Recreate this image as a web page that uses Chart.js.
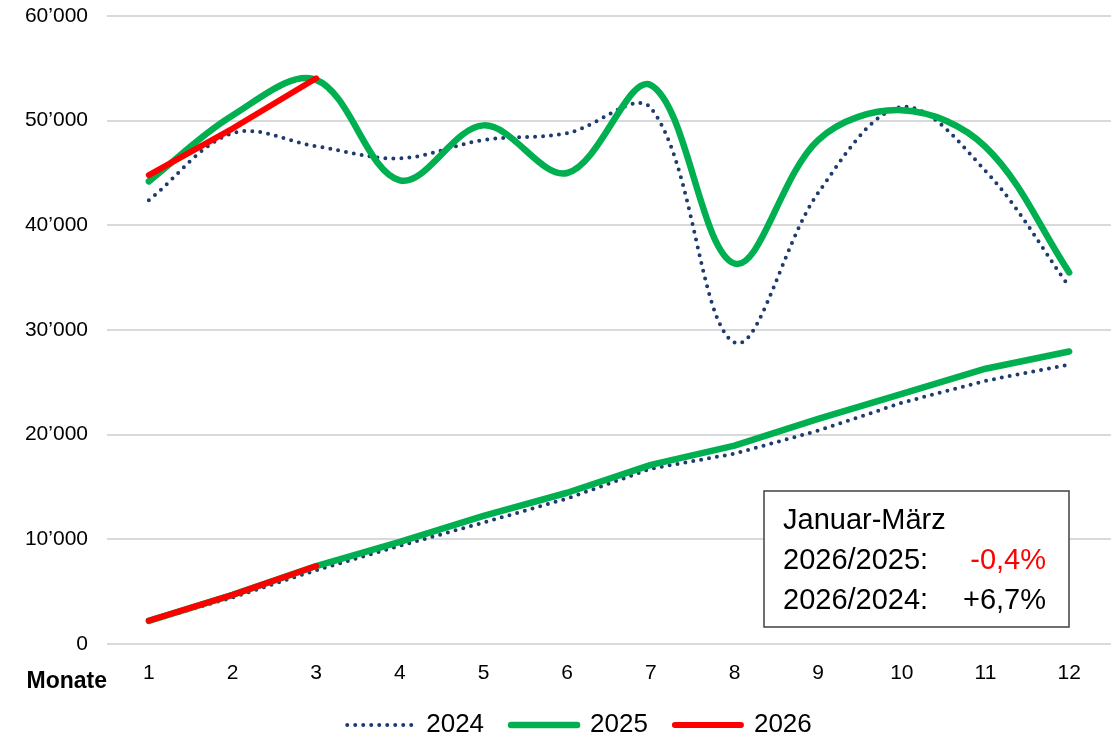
<!DOCTYPE html>
<html lang="de">
<head>
<meta charset="utf-8">
<title>Monatswerte 2024 - 2026</title>
<script src="https://cdn.jsdelivr.net/npm/chart.js@4.4.1/dist/chart.umd.min.js"></script>
<style>
  html, body { margin: 0; padding: 0; background: #fff; }
  #chart { display: block; }
</style>
</head>
<body>
<canvas id="chart" width="1112" height="739"></canvas>
<script>
// --- Daten ---
const monate = ['1', '2', '3', '4', '5', '6', '7', '8', '9', '10', '11', '12'];

const monat2024 = [42400, 48800, 47550, 46400, 48150, 48800, 51200, 28800, 43100, 51300, 45200, 34150];
const monat2025 = [44200, 50500, 53900, 44300, 49550, 45000, 53400, 36350, 48150, 51000, 47500, 35500];
const monat2026 = [44800, 49250, 54050];

const kum2024 = [2150, 4450, 7050, 9380, 11600, 13900, 16750, 18180, 20380, 23050, 25150, 26700];
const kum2025 = [2200, 4700, 7450, 9750, 12250, 14450, 17120, 18950, 21500, 23900, 26300, 27950];
const kum2026 = [2240, 4700, 7450];

const yTicks = { min: 0, max: 60000, step: 10000 };

const infoTitel = 'Januar-März';
const infoZeilen = [
    { text: '2026/2025:', wert: '-0,4%', farbe: '#FF0000' },
    { text: '2026/2024:', wert: '+6,7%', farbe: '#000000' }
];

const BLAU = '#1F3A6E';
const GRUEN = '#00B050';
const ROT = '#FF0000';
const SCHRIFT = '"Liberation Sans", Arial, sans-serif';

const tausender = (v) => String(v).replace(/\B(?=(\d{3})+(?!\d))/g, '\u2019');

// --- Plugins ---
// "Monate" links unter der Achse
const monateLabel = {
    id: 'monateLabel',
    afterDraw(chart) {
        const { ctx, chartArea } = chart;
        ctx.save();
        ctx.font = 'bold 23px ' + SCHRIFT;
        ctx.fillStyle = '#000';
        ctx.textAlign = 'right';
        ctx.textBaseline = 'middle';
        ctx.fillText('Monate', chartArea.left, chartArea.bottom + 38);
        ctx.restore();
    }
};

// Kasten mit Vergleich Januar-März
const infoBox = {
    id: 'infoBox',
    afterDraw(chart) {
        const { ctx, chartArea } = chart;
        const x = chartArea.right - 347, y = chartArea.bottom - 153, w = 305, h = 136;
        ctx.save();
        ctx.fillStyle = '#fff';
        ctx.fillRect(x, y, w, h);
        ctx.strokeStyle = '#404040';
        ctx.lineWidth = 1.5;
        ctx.strokeRect(x, y, w, h);
        ctx.font = '29px ' + SCHRIFT;
        ctx.textBaseline = 'alphabetic';
        ctx.fillStyle = '#000';
        ctx.textAlign = 'left';
        ctx.fillText(infoTitel, x + 19, y + 38);
        infoZeilen.forEach((z, i) => {
            const by = y + 78 + i * 40;
            ctx.textAlign = 'left';
            ctx.fillStyle = '#000';
            ctx.fillText(z.text, x + 19, by);
            ctx.textAlign = 'right';
            ctx.fillStyle = z.farbe;
            ctx.fillText(z.wert, x + 282, by);
        });
        ctx.restore();
    }
};

// Legende etwas verschieben, damit sie wie in der Vorlage sitzt
const legendeVerschieben = {
    id: 'legendeVerschieben',
    afterLayout(chart) {
        const l = chart.legend;
        if (!l) return;
        l.left += 24; l.right += 24;
        l.top -= 3; l.bottom -= 3;
    }
};

// --- Chart ---
const linie = (label, data, farbe, breite, extra) => Object.assign({
    label: label,
    data: data,
    borderColor: farbe,
    backgroundColor: farbe,
    borderWidth: breite,
    pointRadius: 0,
    pointHoverRadius: 0,
    fill: false,
    borderCapStyle: 'round',
    borderJoinStyle: 'round'
}, extra);

const ctx = document.getElementById('chart').getContext('2d');
new Chart(ctx, {
    type: 'line',
    data: {
        labels: monate,
        datasets: [
            linie('2024', monat2024, BLAU, 4, { borderDash: [0, 8], tension: 0.35, order: 2 }),
            linie('2025', monat2025, GRUEN, 6.5, { tension: 0.35, order: 1 }),
            linie('2026', monat2026, ROT, 6, { tension: 0, order: 0 }),
            linie('2024 kumuliert', kum2024, BLAU, 4, { borderDash: [0, 8], tension: 0, order: 2 }),
            linie('2025 kumuliert', kum2025, GRUEN, 6.5, { tension: 0, order: 1 }),
            linie('2026 kumuliert', kum2026, ROT, 6, { tension: 0, order: 0 })
        ]
    },
    options: {
        responsive: false,
        animation: false,
        devicePixelRatio: 1,
        layout: { padding: { top: 16, right: 1, bottom: -12, left: 0 } },
        plugins: {
            tooltip: { enabled: false },
            legend: {
                position: 'bottom',
                labels: {
                    usePointStyle: true,
                    pointStyle: 'line',
                    pointStyleWidth: 66,
                    padding: 27,
                    color: '#000',
                    font: { family: SCHRIFT, size: 26 },
                    generateLabels: (chart) => Chart.defaults.plugins.legend.labels.generateLabels(chart).map(item => {
                        const ds = chart.data.datasets[item.datasetIndex];
                        item.lineDash = ds.borderDash || [];
                        item.lineCap = 'round';
                        item.lineWidth = ds.borderWidth;
                        item.strokeStyle = ds.borderColor;
                        return item;
                    }),
                    filter: (item) => !item.text.includes('kumuliert'),
                    sort: (a, b) => a.datasetIndex - b.datasetIndex
                }
            }
        },
        scales: {
            x: {
                offset: true,
                grid: { display: false, drawTicks: false },
                border: { display: false },
                ticks: {
                    padding: 17,
                    color: '#000',
                    font: { family: SCHRIFT, size: 21 },
                    maxRotation: 0
                },
                afterFit: (scale) => { scale.height = 44; }
            },
            y: {
                min: yTicks.min,
                max: yTicks.max,
                grid: { color: '#D9D9D9', lineWidth: 2, drawTicks: false },
                border: { display: false },
                ticks: {
                    stepSize: yTicks.step,
                    padding: 19,
                    color: '#000',
                    font: { family: SCHRIFT, size: 21 },
                    callback: (v) => tausender(v)
                },
                afterFit: (scale) => {
                    scale.width = 107;
                    scale.paddingTop = 0;
                    scale.paddingBottom = 0;
                }
            }
        }
    },
    plugins: [legendeVerschieben, monateLabel, infoBox]
});
</script>
</body>
</html>
